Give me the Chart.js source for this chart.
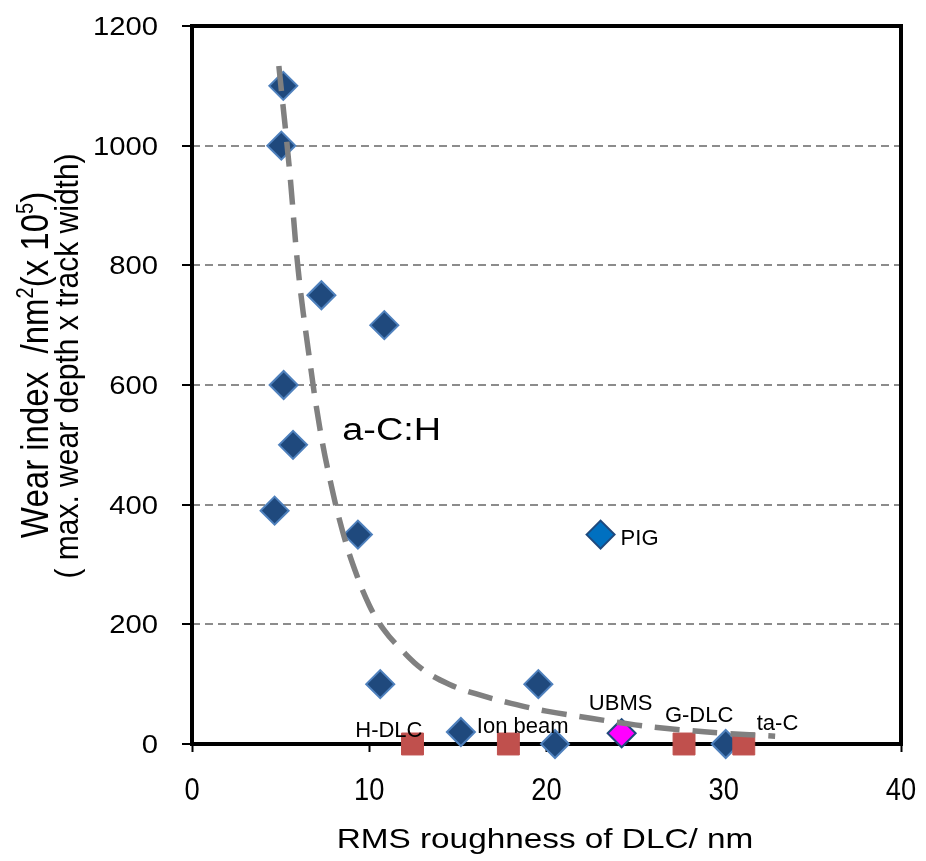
<!DOCTYPE html>
<html>
<head>
<meta charset="utf-8">
<title>Wear index vs RMS roughness of DLC</title>
<script src="https://cdn.jsdelivr.net/npm/chart.js@4.4.1/dist/chart.umd.min.js"></script>
<style>
  html, body { margin: 0; padding: 0; background: #ffffff; }
  #wrap { position: relative; width: 926px; height: 861px; }
</style>
</head>
<body>
<div id="wrap"><canvas id="chart"></canvas></div>
<script>
// {{{ data
// a-C:H films
const acRough = [5.15, 5.04, 7.30, 10.85, 5.17, 5.70, 4.66, 9.36, 10.62, 19.54, 15.17, 20.48, 30.11];
const acWear  = [1100, 1000, 750, 700, 600, 500, 390, 350, 100, 100, 20, 0, 0];
// PIG and UBMS
const pigRough  = [23.05];
const pigWear   = [350];
const ubmsRough = [24.24];
const ubmsWear  = [18];
// H-DLC, Ion beam, G-DLC, ta-C
const hardRough = [12.44, 17.85, 27.76, 31.13];
const hardWear  = [0, 0, 0, 0];
// trend curve
const trendRough = [4.9, 5.5, 6.0, 6.6, 7.2, 7.8, 8.5, 9.2, 10.0, 10.8, 11.8, 13.0, 14.5, 16.0, 18.0, 20.0, 22.5, 25.0, 27.5, 30.0, 32.9];
const trendWear  = [1133, 960, 790, 650, 530, 440, 355, 290, 232, 192, 158, 125, 100, 84, 68, 55, 43, 32, 24, 18, 13];
const xTicks = [0, 10, 20, 30, 40];
const yTicks = [0, 200, 400, 600, 800, 1000, 1200];
// labels next to the points (left edge, baseline, in data units)
const noteText = ['H-DLC', 'Ion beam', 'UBMS', 'G-DLC', 'ta-C', 'PIG'];
const noteX    = [9.21, 16.07, 22.39, 26.68, 31.86, 24.18];
const noteY    = [11.7, 18.4, 56.9, 36.8, 23.4, 332.8];
const groupText = 'a-C:H';
const groupX = 8.48;
const groupY = 508;
// }}}

const FONT = '"Liberation Sans", Arial, sans-serif';

let pts = (xs, ys) => xs.map((x, i) => ({x: x, y: ys[i]}));

// {{{ drawRich()
// parts: [text, size, rise]; stretched by sx along canvas x
function drawRich(ctx, parts, x, y, sx, angle, align)
{
  ctx.save();
  ctx.translate(x, y);
  ctx.scale(sx, 1);
  ctx.rotate(angle);
  let total = 0;
  let widths = [];
  for (let i = 0; i < parts.length; i++)
  {
    ctx.font = parts[i][1] + 'px ' + FONT;
    widths.push(ctx.measureText(parts[i][0]).width);
    total += widths[i];
  }
  let px = (align == 'center') ? -total / 2 : ((align == 'right') ? -total : 0);
  ctx.textAlign = 'left';
  ctx.textBaseline = 'alphabetic';
  ctx.fillStyle = '#000000';
  for (let i = 0; i < parts.length; i++)
  {
    ctx.font = parts[i][1] + 'px ' + FONT;
    ctx.fillText(parts[i][0], px, -parts[i][2]);
    px += widths[i];
  }
  ctx.restore();
}
// }}}

// {{{ frame and text plugin
const decor =
{
  id: 'decor',
  beforeDatasetsDraw(chart)
  {
    const ctx = chart.ctx;
    const a = chart.chartArea;
    ctx.save();
    ctx.strokeStyle = '#000000';
    ctx.lineWidth = 4;
    ctx.strokeRect(a.left, a.top, a.right - a.left, a.bottom - a.top);
    ctx.restore();
  },
  afterDraw(chart)
  {
    const ctx = chart.ctx;
    const sx = chart.scales.x;
    const sy = chart.scales.y;
    // tick labels
    for (let i = 0; i < yTicks.length; i++)
    {
      drawRich(ctx, [[String(yTicks[i]), 25, 0]], 158, sy.getPixelForValue(yTicks[i]) + 9, 1.17, 0, 'right');
    }
    for (let i = 0; i < xTicks.length; i++)
    {
      drawRich(ctx, [[String(xTicks[i]), 31, 0]], sx.getPixelForValue(xTicks[i]), 800, 0.88, 0, 'center');
    }
    // axis titles
    drawRich(ctx, [['RMS roughness of DLC/ nm', 28, 0]], 545, 848, 1.19, 0, 'center');
    drawRich(ctx, [['Wear index  /nm', 33, 0], ['2', 20, 13], ['(x 10', 33, 0], ['5', 20, 13], [')', 33, 0]], 48, 365, 1.15, -Math.PI / 2, 'center');
    drawRich(ctx, [['( max. wear depth x track width)', 30, 0]], 78, 366, 1.1, -Math.PI / 2, 'center');
    // group label
    drawRich(ctx, [[groupText, 31, 0]], sx.getPixelForValue(groupX), sy.getPixelForValue(groupY), 1.22, 0, 'left');
    // point labels
    for (let i = 0; i < noteText.length; i++)
    {
      drawRich(ctx, [[noteText[i], 22, 0]], sx.getPixelForValue(noteX[i]), sy.getPixelForValue(noteY[i]), 1, 0, 'left');
    }
  }
};
// }}}

new Chart(document.getElementById('chart'),
{
  type: 'scatter',
  data:
  {
    datasets:
    [
      {
        label: 'trend',
        type: 'line',
        data: pts(trendRough, trendWear),
        borderColor: '#808080',
        borderWidth: 5.5,
        borderDash: [25, 13],
        pointRadius: 0,
        tension: 0.4,
        fill: false,
        clip: false,
        order: 0
      },
      {
        label: 'a-C:H',
        data: pts(acRough, acWear),
        pointStyle: 'rectRot',
        pointRadius: 14,
        backgroundColor: '#1F497D',
        borderColor: '#4F81BD',
        borderWidth: 2,
        clip: false,
        order: 2
      },
      {
        label: 'PIG',
        data: pts(pigRough, pigWear),
        pointStyle: 'rectRot',
        pointRadius: 14,
        backgroundColor: '#0070C0',
        borderColor: '#1F497D',
        borderWidth: 2,
        clip: false,
        order: 2
      },
      {
        label: 'UBMS',
        data: pts(ubmsRough, ubmsWear),
        pointStyle: 'rectRot',
        pointRadius: 14,
        backgroundColor: '#FF00FF',
        borderColor: '#1F497D',
        borderWidth: 2,
        clip: false,
        order: 1
      },
      {
        label: 'other DLC',
        data: pts(hardRough, hardWear),
        pointStyle: 'rect',
        pointRadius: 15.5,
        backgroundColor: '#C0504D',
        borderColor: '#C0504D',
        borderWidth: 1,
        clip: false,
        order: 1
      }
    ]
  },
  options:
  {
    responsive: true,
    maintainAspectRatio: false,
    animation: false,
    layout: {padding: {left: 0, top: 26, right: 25, bottom: 0}},
    plugins: {legend: {display: false}, tooltip: {enabled: false}, title: {display: false}},
    scales:
    {
      x:
      {
        type: 'linear',
        min: 0,
        max: 40,
        afterBuildTicks: (s) => { s.ticks = xTicks.map((v) => ({value: v})); },
        afterFit: (s) => { s.height = 117; },
        grid: {drawOnChartArea: false, drawTicks: true, tickLength: 8, tickColor: '#000000', tickWidth: 2},
        border: {display: false},
        ticks: {display: false}
      },
      y:
      {
        type: 'linear',
        min: 0,
        max: 1200,
        afterBuildTicks: (s) => { s.ticks = yTicks.map((v) => ({value: v})); },
        afterFit: (s) => { s.width = 192; },
        grid: {color: '#8C8C8C', lineWidth: 2, drawTicks: true, tickLength: 10, tickColor: '#000000', tickWidth: 2, tickBorderDash: []},
        border: {display: false, dash: [8, 5]},
        ticks: {display: false}
      }
    }
  },
  plugins: [decor]
});
</script>
</body>
</html>
